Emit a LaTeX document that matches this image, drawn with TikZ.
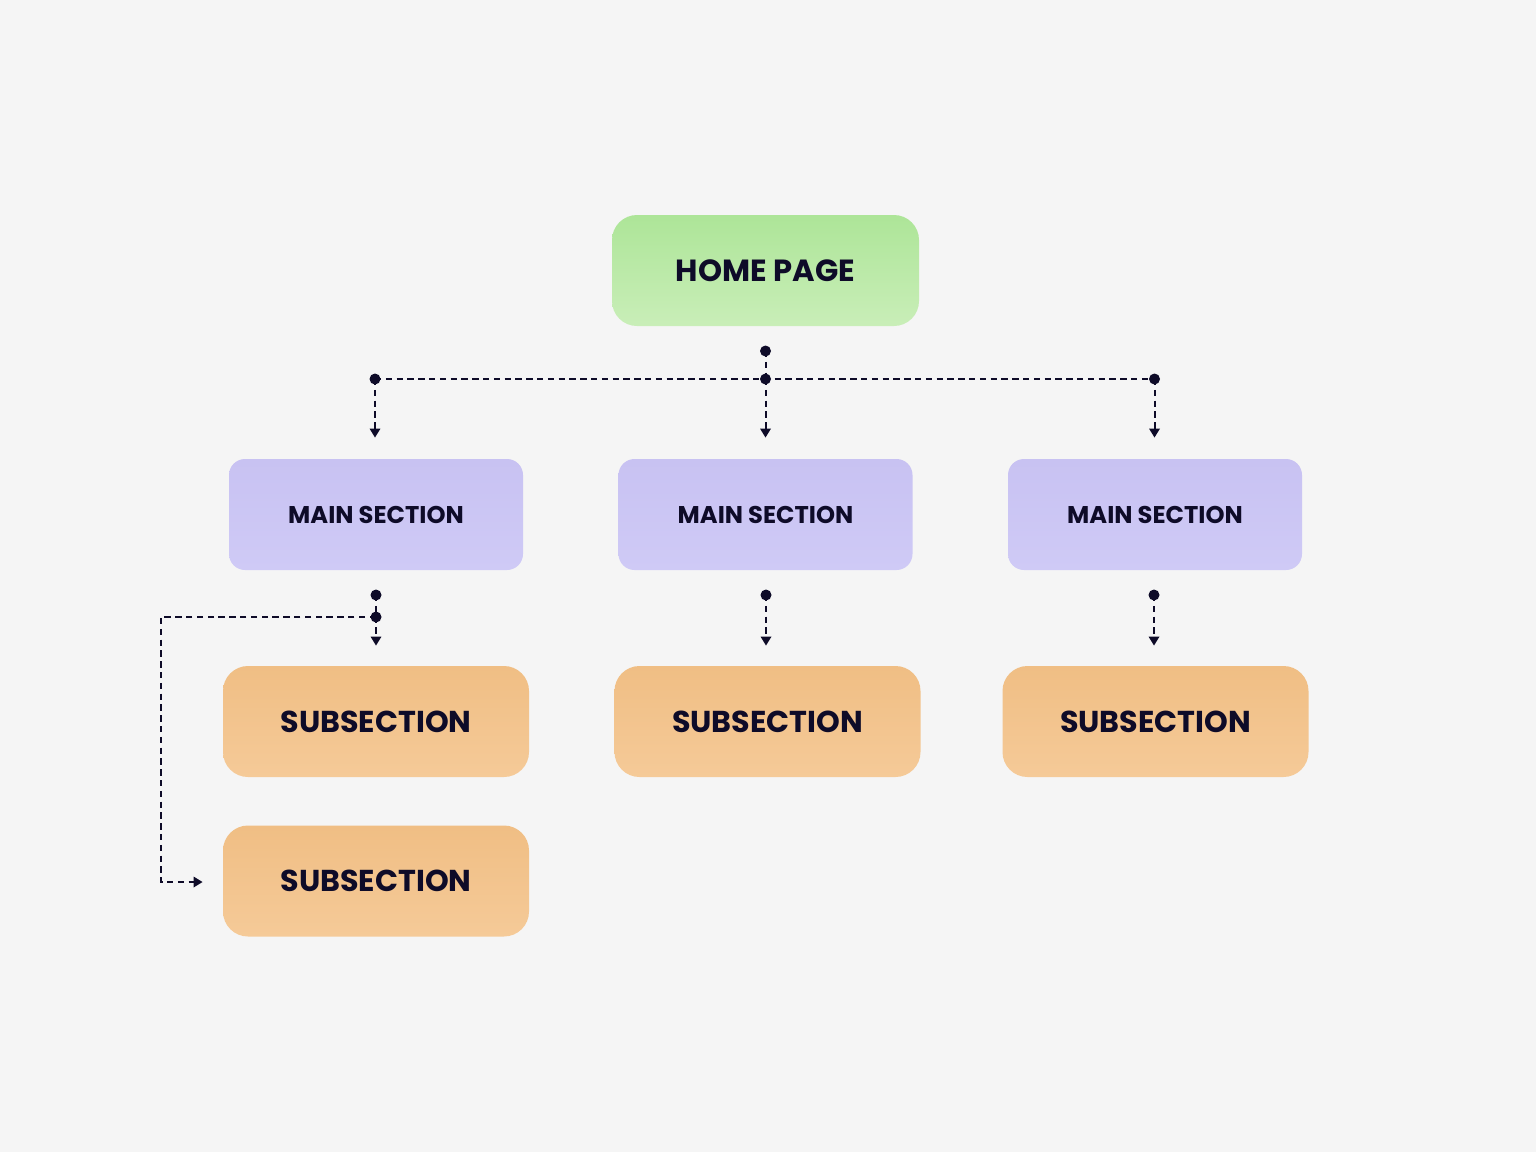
\documentclass[tikz,border=0pt]{standalone}
\usepackage{fontspec}
\setmainfont{Poppins}
\usetikzlibrary{arrows.meta,calc}
\definecolor{bg}{HTML}{F5F5F5}
\definecolor{ink}{HTML}{0E0B28}
\definecolor{gtop}{HTML}{ADE598}
\definecolor{gbot}{HTML}{C9EEB8}
\definecolor{ptop}{HTML}{C8C2F2}
\definecolor{pbot}{HTML}{CFCAF6}
\definecolor{otop}{HTML}{F0BE84}
\definecolor{obot}{HTML}{F5CA98}
\tikzset{
  homebox/.style={rounded corners=12.5pt, minimum width=153.5pt, minimum height=55.5pt,
    top color=gtop, bottom color=gbot, text=ink, font=\fontsize{15.3}{18}\selectfont\bfseries, inner sep=0pt},
  mainbox/.style={rounded corners=8pt, minimum width=147pt, minimum height=55.5pt,
    top color=ptop, bottom color=pbot, text=ink, font=\fontsize{12.1}{15}\selectfont\bfseries, inner sep=0pt},
  subbox/.style={rounded corners=12.5pt, minimum width=153pt, minimum height=55.5pt,
    top color=otop, bottom color=obot, text=ink, font=\fontsize{15.1}{18}\selectfont\bfseries, inner sep=0pt},
  conn/.style={draw=ink, line width=1pt, dash pattern=on 3.2pt off 2.2pt},
  arr/.style={conn, -{Triangle[length=4.5pt,width=5.2pt]}},
  dotmark/.style={circle, fill=ink, inner sep=0pt, minimum size=5.5pt}
}
\begin{document}
\begin{tikzpicture}[x=0.5pt,y=-0.5pt]
\useasboundingbox (0,0) rectangle (1536,1152);
\fill[bg] (0,0) rectangle (1536,1152);

\node[homebox] (home) at (765.5,270.5) {HOME PAGE};
\node[mainbox] (m1) at (376,514.5) {MAIN SECTION};
\node[mainbox] (m2) at (765.5,514.5) {MAIN SECTION};
\node[mainbox] (m3) at (1155,514.5) {MAIN SECTION};
\node[subbox] (s1) at (376,721.5) {SUBSECTION};
\node[subbox] (s2) at (767.5,721.5) {SUBSECTION};
\node[subbox] (s3) at (1155.5,721.5) {SUBSECTION};
\node[subbox] (s4) at (376,881) {SUBSECTION};

% top tree
\coordinate (hd) at (765.5,351);
\coordinate (hj) at (765.5,379);
\coordinate (hl) at (375,379);
\coordinate (hr) at (1154.5,379);
\draw[conn] (hd) -- (hj);
\draw[conn] (hl) -- (hr);
\draw[arr, shorten >=10.5pt] (hl) -- (hl |- m1.north);
\draw[arr, shorten >=10.5pt] (hj) -- (hj |- m2.north);
\draw[arr, shorten >=10.5pt] (hr) -- (hr |- m3.north);

% main to sub
\coordinate (d1) at (376,595);
\coordinate (j1) at (376,617);
\coordinate (d2) at (766,595);
\coordinate (d3) at (1154,595);
\coordinate (c1) at (161,617);
\coordinate (c2) at (161,882);
\draw[arr, shorten >=10pt] (d1) -- (d1 |- s1.north);
\draw[arr, shorten >=10pt] (d2) -- (d2 |- s2.north);
\draw[arr, shorten >=10pt] (d3) -- (d3 |- s3.north);
\draw[arr, shorten >=10pt] (j1) -- (c1) -- (c2) -- (c2 -| s4.west);

% dots
\foreach \p in {hd,hj,hl,hr,d1,j1,d2,d3} \node[dotmark] at (\p) {};
\end{tikzpicture}
\end{document}
